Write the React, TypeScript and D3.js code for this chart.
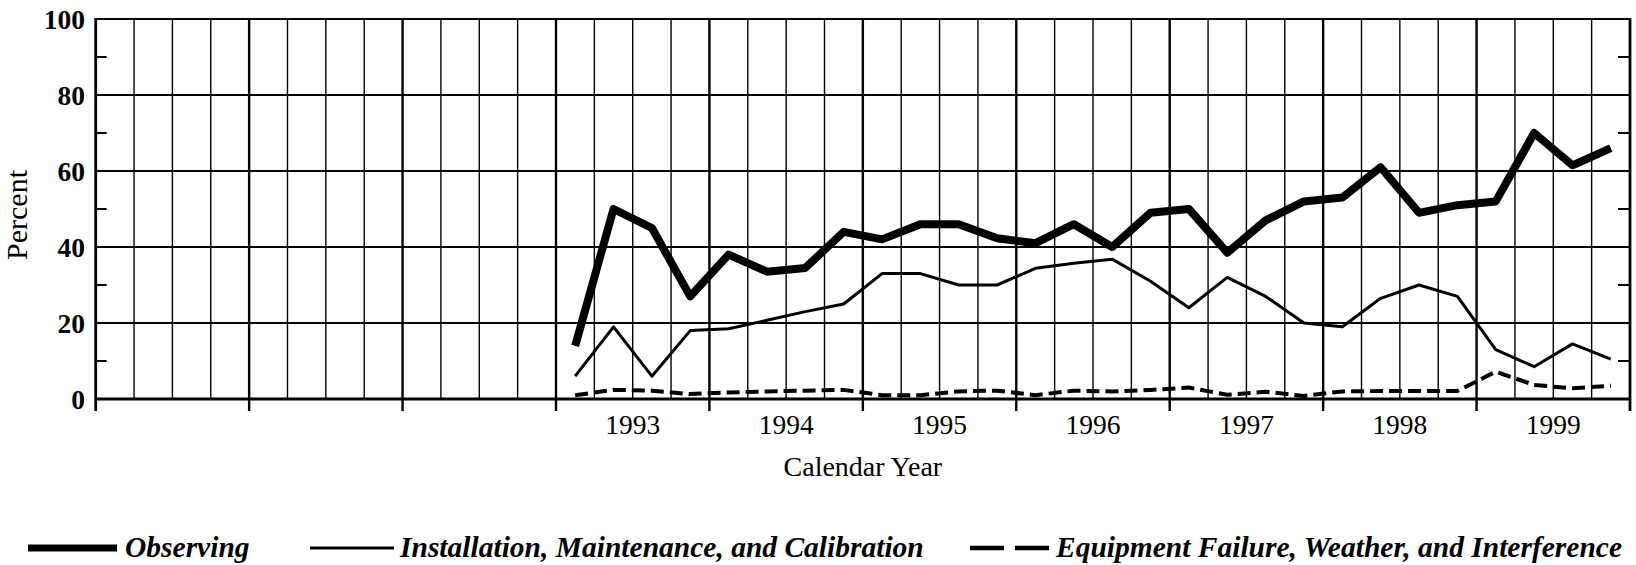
import React from "react";
import * as d3 from "d3";

// ---- data (quarterly, 1993 Q1 – 1999 Q4) ----
const axisYears = [1990, 1991, 1992, 1993, 1994, 1995, 1996, 1997, 1998, 1999];
const labeledYears = [1993, 1994, 1995, 1996, 1997, 1998, 1999];
const quarters = ["Q1", "Q2", "Q3", "Q4"];
const dataYears = [1993, 1994, 1995, 1996, 1997, 1998, 1999];

const observing = [14, 50, 45, 27, 38, 33.5, 34.5, 44, 42, 46, 46, 42.3, 41, 46, 40, 49, 50, 38.5, 47, 52, 53, 61, 49, 51, 52, 70, 61.5, 66];
const installation = [6, 19, 6, 18, 18.5, 20.7, 23, 25, 33, 33, 30, 30, 34.4, 35.7, 36.8, 31, 24, 32, 27, 20, 19, 26.5, 30, 27, 13, 8.5, 14.5, 10.5];
const equipment = [1, 2.4, 2.2, 1.3, 1.7, 2, 2.2, 2.4, 1, 1, 2, 2.2, 1, 2.2, 2, 2.4, 3, 1.1, 1.9, 0.8, 2, 2.1, 2.1, 2.1, 7.2, 3.7, 2.8, 3.5];

const yMajor = [0, 20, 40, 60, 80, 100];
const yMinor = [10, 30, 50, 70, 90];

const seriesNames = [
  "Observing",
  "Installation, Maintenance, and Calibration",
  "Equipment Failure, Weather, and Interference",
];

const W = 1636;
const H = 565;
const M = { left: 95.7, right: 1630, top: 19, bottom: 399 };

export default function App() {
  const x = d3.scaleLinear().domain([1990, 2000]).range([M.left, M.right]);
  const y = d3.scaleLinear().domain([0, 100]).range([M.bottom, M.top]);

  const times: number[] = [];
  dataYears.forEach((yr) => quarters.forEach((_, qi) => times.push(yr + (qi + 0.5) / 4)));

  const line = d3
    .line<number>()
    .x((_, i) => x(times[i]))
    .y((d) => y(d));

  const quarterLines: number[] = [];
  axisYears.forEach((yr) => [1, 2, 3].forEach((q) => quarterLines.push(yr + q / 4)));

  const serif = "'Liberation Serif', 'Times New Roman', serif";

  return (
    <div style={{ position: "absolute", left: 0, top: 0 }}>
      <svg width={W} height={H} viewBox={`0 0 ${W} ${H}`} style={{ display: "block", background: "#fff" }}>
        <rect x={0} y={0} width={W} height={H} fill="#fff" />
        {/* quarter grid lines */}
        {quarterLines.map((t) => (
          <line key={"q" + t} x1={x(t)} x2={x(t)} y1={M.top} y2={M.bottom} stroke="#000" strokeWidth={1.4} />
        ))}
        {/* horizontal grid lines */}
        {yMajor.map((v) => (
          <line key={"h" + v} x1={M.left} x2={M.right} y1={y(v)} y2={y(v)} stroke="#000" strokeWidth={v === 0 ? 2.8 : 2.2} />
        ))}
        {/* year lines */}
        {[...axisYears, 2000].map((yr) => (
          <line key={"y" + yr} x1={x(yr)} x2={x(yr)} y1={M.top - 1} y2={M.bottom + 12} stroke="#000" strokeWidth={yr === 1990 || yr === 2000 ? 2.8 : 2.4} />
        ))}
        {/* minor ticks */}
        {yMinor.map((v) => (
          <g key={"m" + v}>
            <line x1={M.left} x2={M.left + 11} y1={y(v)} y2={y(v)} stroke="#000" strokeWidth={2} />
            <line x1={M.right - 12} x2={M.right} y1={y(v)} y2={y(v)} stroke="#000" strokeWidth={2} />
          </g>
        ))}
        {/* y tick labels */}
        {yMajor.map((v) => (
          <text key={"t" + v} x={85} y={y(v)} dy="0.35em" textAnchor="end" fontFamily={serif} fontWeight="bold" fontSize={27.5}>
            {v}
          </text>
        ))}
        <text transform={`translate(27,${(M.top + M.bottom) / 2 + 6}) rotate(-90)`} textAnchor="middle" fontFamily={serif} fontSize={30}>
          Percent
        </text>
        {/* x labels */}
        {labeledYears.map((yr) => (
          <text key={"l" + yr} x={x(yr + 0.5)} y={434} textAnchor="middle" fontFamily={serif} fontSize={27.5}>
            {yr}
          </text>
        ))}
        <text x={(M.left + M.right) / 2} y={476} textAnchor="middle" fontFamily={serif} fontSize={28}>
          Calendar Year
        </text>

        {/* series */}
        <path d={line(equipment) || ""} fill="none" stroke="#000" strokeWidth={4} strokeDasharray="13 6" />
        <path d={line(installation) || ""} fill="none" stroke="#000" strokeWidth={3} strokeLinejoin="round" />
        <path d={line(observing) || ""} fill="none" stroke="#000" strokeWidth={8} strokeLinejoin="round" />

        {/* legend */}
        <line x1={28} x2={117} y1={548} y2={548} stroke="#000" strokeWidth={7} />
        <text x={125} y={557} fontFamily={serif} fontSize={29.5} fontWeight="bold" fontStyle="italic">
          {seriesNames[0]}
        </text>
        <line x1={310} x2={394} y1={548} y2={548} stroke="#000" strokeWidth={3} />
        <text x={400} y={557} fontFamily={serif} fontSize={29.5} fontWeight="bold" fontStyle="italic">
          {seriesNames[1]}
        </text>
        <line x1={970} x2={1049} y1={548} y2={548} stroke="#000" strokeWidth={4.5} strokeDasharray="34 11" />
        <text x={1056} y={557} fontFamily={serif} fontSize={29.5} fontWeight="bold" fontStyle="italic">
          {seriesNames[2]}
        </text>
      </svg>
    </div>
  );
}
